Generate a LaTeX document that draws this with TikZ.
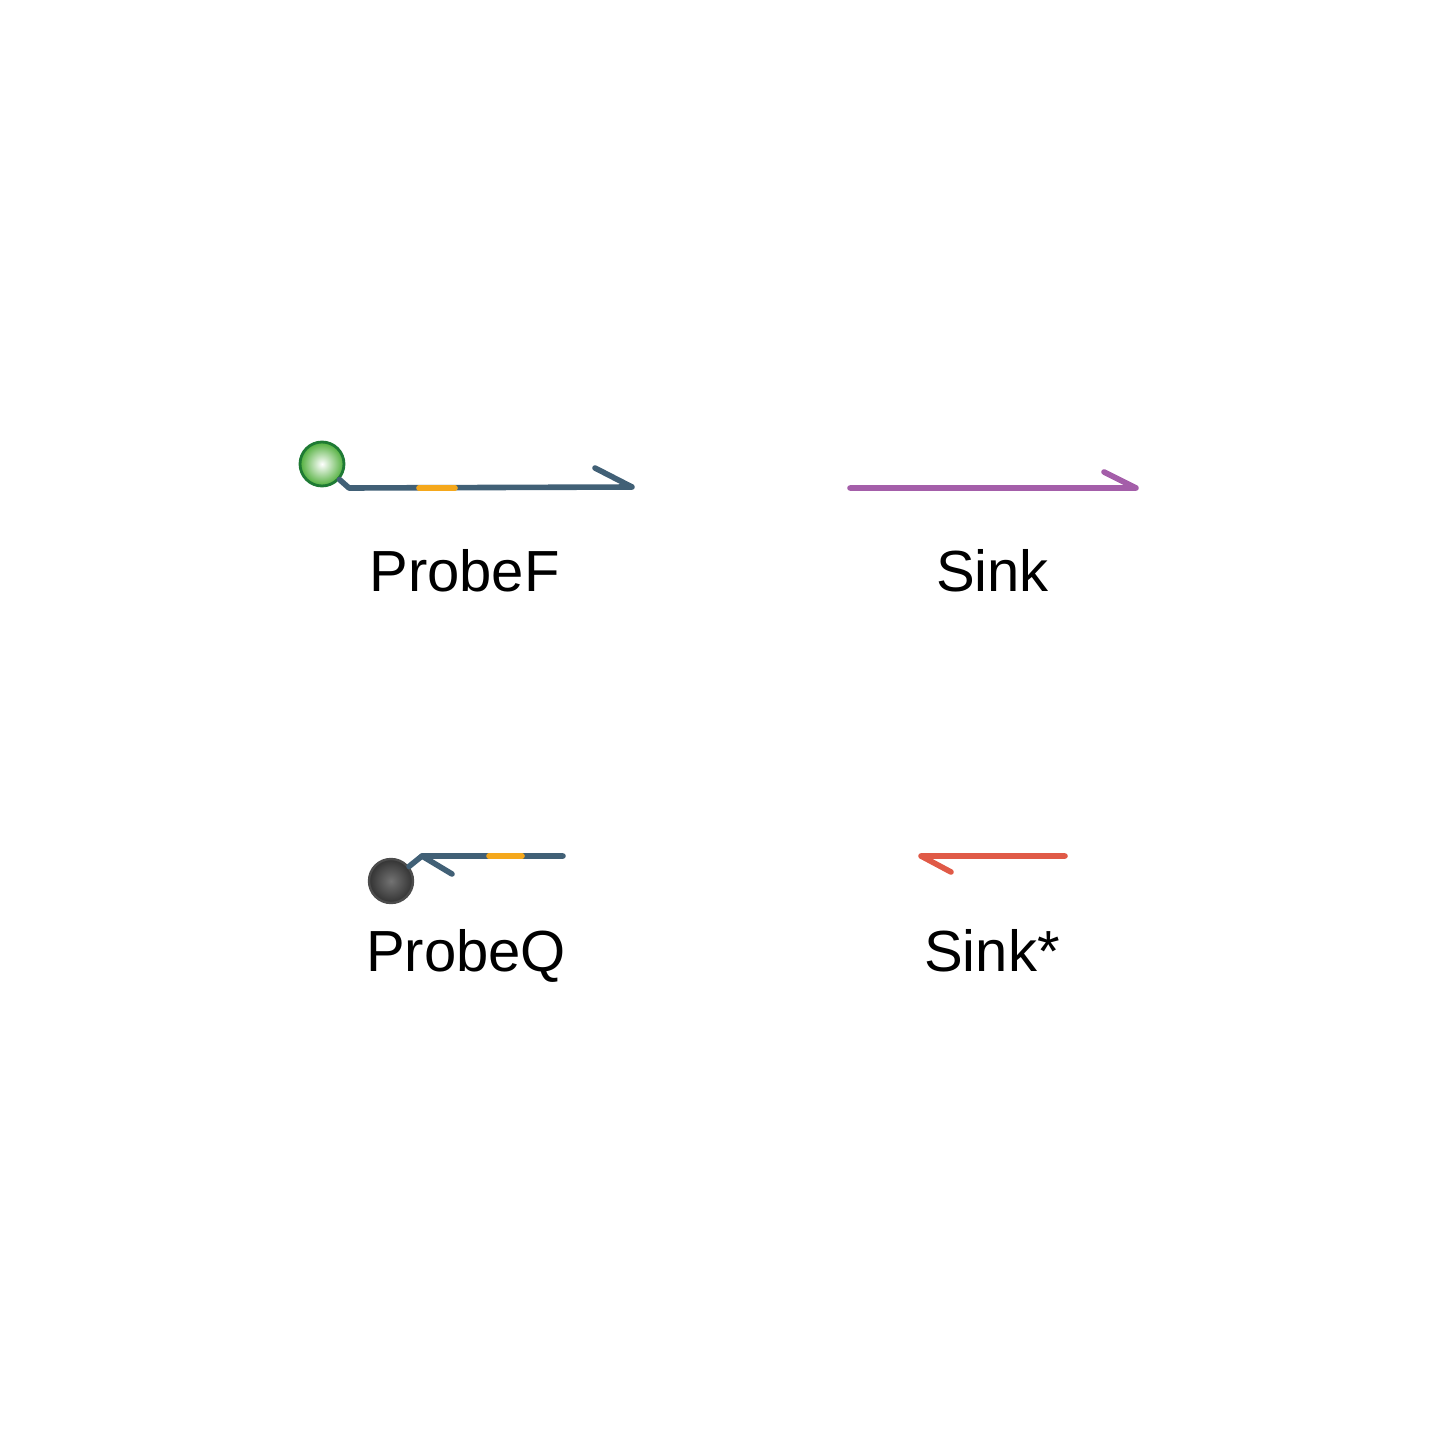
\documentclass[tikz,border=0pt]{standalone}
\usepackage{fontspec}
\setmainfont{Liberation Sans}
\usetikzlibrary{shadings}
\definecolor{strand}{HTML}{416076}
\definecolor{toe}{HTML}{F5A81C}
\definecolor{sinkc}{HTML}{A45EA9}
\definecolor{sinks}{HTML}{E05A47}
\definecolor{fluoedge}{HTML}{1E7A34}
\definecolor{fluo}{HTML}{4FAE3A}
\tikzset{
  x=0.5pt, y=-0.5pt,
  seg/.style={line width=2.8pt, line cap=round, line join=round},
  lbl/.style={anchor=base, font=\fontsize{29}{35}\selectfont, inner sep=0pt},
  fluor/.style={circle, minimum size=22pt, inner sep=0pt, draw=fluoedge, line width=1.4pt, inner color=white, outer color=fluo},
  quench/.style={circle, minimum size=22pt, inner sep=0pt, draw=black!70, line width=1.2pt, inner color=black!55, outer color=black!80},
}
\begin{document}
\begin{tikzpicture}
\useasboundingbox (0,0) rectangle (1435,1434);
% ProbeF
\coordinate (f1) at (349,488);
\coordinate (f2) at (632,487);
\coordinate (fb) at (595,468);
\coordinate (ft1) at (419,488);
\coordinate (ft2) at (455,488);
\node[fluor] (F) at (322,464) {};
\draw[seg, strand] (F) -- (f1) -- (f2) -- (fb);
\draw[seg, toe] (ft1) -- (ft2);
\node[lbl] (lF) at (464.5,591) {ProbeF};
% Sink
\coordinate (s1) at (850,488);
\coordinate (s2) at (1136,488);
\coordinate (sb) at (1104,472);
\draw[seg, sinkc] (s1) -- (s2) -- (sb);
\node[lbl] (lS) at (992.5,591) {Sink};
% ProbeQ
\coordinate (q1) at (422,856);
\coordinate (q2) at (563,856);
\coordinate (qb) at (452,874);
\coordinate (qt1) at (489,856);
\coordinate (qt2) at (522,856);
\node[quench] (Q) at (391,881) {};
\draw[seg, strand] (Q) -- (q1) -- (q2);
\draw[seg, strand] (q1) -- (qb);
\draw[seg, toe] (qt1) -- (qt2);
\node[lbl] (lQ) at (466,971) {ProbeQ};
% Sink*
\coordinate (t1) at (1065,856);
\coordinate (t2) at (921,856);
\coordinate (tb) at (951,872);
\draw[seg, sinks] (t1) -- (t2) -- (tb);
\node[lbl] (lT) at (992,971) {Sink*};
\end{tikzpicture}
\end{document}
